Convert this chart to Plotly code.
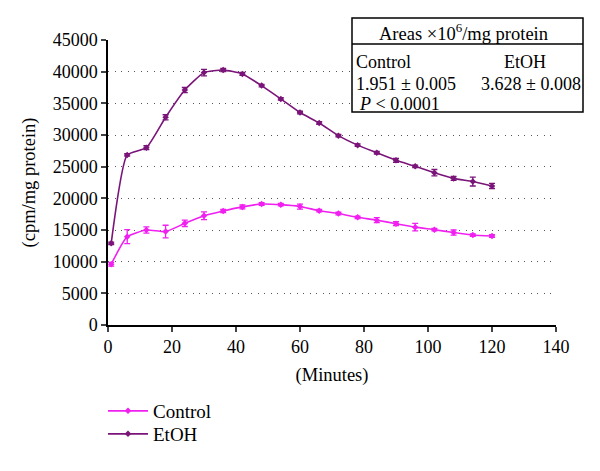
import plotly.graph_objects as go

minutes = [1, 6, 12, 18, 24, 30, 36, 42, 48, 54, 60, 66, 72, 78, 84, 90, 96, 102, 108, 114, 120]
control = [9600, 13950, 15000, 14750, 16050, 17250, 18000, 18650, 19100, 19000, 18700,
           18050, 17600, 17000, 16550, 16000, 15450, 15050, 14600, 14200, 14050]
control_err = [300, 1100, 500, 1000, 500, 600, 250, 300, 200, 200, 400,
               200, 200, 200, 400, 300, 600, 200, 400, 200, 200]
etoh = [12900, 26850, 28000, 32800, 37100, 39850, 40250, 39650, 37800, 35700, 33550,
        31900, 29900, 28400, 27200, 26000, 25050, 24050, 23150, 22650, 21950]
etoh_err = [200, 200, 300, 400, 400, 500, 250, 250, 200, 200, 200,
            200, 200, 200, 200, 300, 200, 500, 300, 700, 400]

y_ticks = [0, 5000, 10000, 15000, 20000, 25000, 30000, 35000, 40000, 45000]
y_labels = ["0", "5000", "10000", "15000", "20000", "25000", "30000", "35000", "40000", "45000"]
x_ticks = [0, 20, 40, 60, 80, 100, 120, 140]
x_labels = ["0", "20", "40", "60", "80", "100", "120", "140"]

FONT = "Liberation Serif"
c_col = "#F020F0"
e_col = "#7A1479"

fig = go.Figure()
fig.add_trace(go.Scatter(
    x=minutes, y=control, name="Control", mode="lines+markers", legend="legend",
    line=dict(color=c_col, width=1.6, shape="spline", smoothing=0.5),
    marker=dict(symbol="diamond", size=5, color=c_col),
    error_y=dict(type="data", array=control_err, color=c_col, thickness=1.3, width=3),
))
fig.add_trace(go.Scatter(
    x=minutes, y=etoh, name="EtOH", mode="lines+markers", legend="legend2",
    line=dict(color=e_col, width=1.6, shape="spline", smoothing=0.5),
    marker=dict(symbol="diamond", size=5, color=e_col),
    error_y=dict(type="data", array=etoh_err, color=e_col, thickness=1.3, width=3),
))

L, R, T, B = 108, 44, 40, 146
W, H = 600 - L - R, 471 - T - B

def px(x):
    return (x - L) / W

def py(y):
    return (471 - B - y) / H

shapes = [
    dict(type="rect", xref="paper", yref="paper", x0=px(352), x1=px(583), y0=py(112), y1=py(18),
         line=dict(color="black", width=1.5), fillcolor="white", layer="above"),
    dict(type="line", xref="paper", yref="paper", x0=px(352), x1=px(583), y0=py(44), y1=py(44),
         line=dict(color="black", width=1.5), layer="above"),
]

tfont = dict(family=FONT, size=18, color="black")
annotations = [
    dict(xref="paper", yref="paper", x=px(463), y=py(32), text="Areas ×10<sup>6</sup>/mg protein",
         showarrow=False, font=dict(family=FONT, size=18.5, color="black"),
         xanchor="center", yanchor="middle"),
    dict(xref="paper", yref="paper", x=px(354), y=py(62), text="Control",
         showarrow=False, font=tfont, xanchor="left", yanchor="middle"),
    dict(xref="paper", yref="paper", x=px(548), y=py(62), text="EtOH",
         showarrow=False, font=tfont, xanchor="right", yanchor="middle"),
    dict(xref="paper", yref="paper", x=px(354), y=py(84), text="1.951 ± 0.005",
         showarrow=False, font=tfont, xanchor="left", yanchor="middle"),
    dict(xref="paper", yref="paper", x=px(583), y=py(84), text="3.628 ± 0.008",
         showarrow=False, font=tfont, xanchor="right", yanchor="middle"),
    dict(xref="paper", yref="paper", x=px(357), y=py(104), text="<i>P</i> < 0.0001",
         showarrow=False, font=tfont, xanchor="left", yanchor="middle"),
]

leg_common = dict(xanchor="left", yanchor="middle", font=dict(family=FONT, size=19),
                  bgcolor="rgba(0,0,0,0)", itemwidth=40)

fig.update_layout(
    width=600, height=471,
    margin=dict(l=L, r=R, t=T, b=B, pad=0, autoexpand=False),
    paper_bgcolor="white", plot_bgcolor="white",
    font=dict(family=FONT, size=18, color="black"),
    showlegend=True,
    legend=dict(x=px(103), y=py(411), **leg_common),
    legend2=dict(x=px(103), y=py(434), **leg_common),
    xaxis=dict(range=[0, 140], tickvals=x_ticks, ticktext=x_labels, ticks="outside",
               ticklen=5, tickwidth=1.5, automargin=False,
               showline=True, linecolor="black", linewidth=1.5, showgrid=False, zeroline=False,
               title=dict(text="(Minutes)", font=dict(size=18.5), standoff=12),
               tickfont=dict(size=18)),
    yaxis=dict(range=[0, 45000], tickvals=y_ticks, ticktext=y_labels, ticks="outside",
               ticklen=5, tickwidth=1.5, automargin=False,
               showline=True, linecolor="black", linewidth=1.5, zeroline=False,
               showgrid=True, gridcolor="#555555", gridwidth=1.2, griddash="1px,5.5px",
               title=dict(text="(cpm/mg protein)", font=dict(size=18.5), standoff=12),
               tickfont=dict(size=18)),
    shapes=shapes, annotations=annotations,
)

fig.write_html("out.html", config={"displayModeBar": False},
               post_script="document.body.style.margin='0';document.body.style.padding='0';")
